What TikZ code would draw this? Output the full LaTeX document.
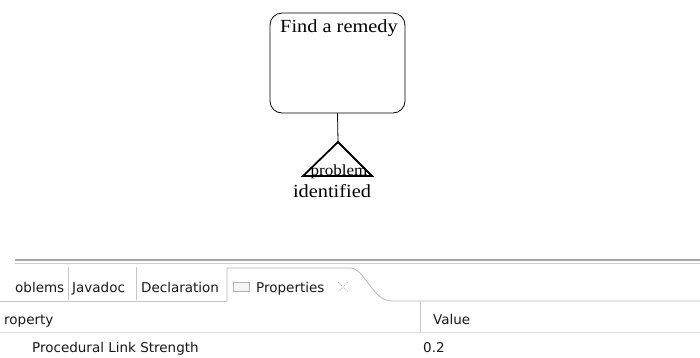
\documentclass[tikz,border=0pt]{standalone}
\usepackage{fontspec}
\setmainfont{Liberation Serif}
\newfontfamily\opmfont[FakeStretch=1.1]{Liberation Serif}
\newfontfamily\panelfont{DejaVu Sans}
\usetikzlibrary{shapes,arrows,positioning,calc}

\begin{document}
\begin{tikzpicture}[
    x=1pt, y=-1pt,
    procnode/.style={draw, rectangle, rounded corners=12pt, minimum width=135pt, minimum height=100pt, line width=0.8pt},
    opmtext/.style={inner sep=0pt, font=\opmfont\fontsize{18.5}{20}\selectfont},
    tabtext/.style={inner sep=0pt, text=black!90, font=\panelfont\fontsize{13.5}{15}\selectfont},
    tabline/.style={draw=gray!45, line width=0.6pt}
  ]
  \useasboundingbox (0,0) rectangle (700,357);
  \clip (0,0) rectangle (700,357);

  % 过程
  \node[procnode] (remedy) at (337.5,63) {};
  \node[opmtext, anchor=base] (remedylabel) at (339,32) {Find a remedy};

  % 状态
  \coordinate (apex) at (338,142);
  \coordinate (baseleft) at (303,176);
  \coordinate (baseright) at (372,176);
  \node[opmtext, anchor=base, font=\opmfont\fontsize{15.5}{17}\selectfont] (problem) at (339,175) {problem};
  \draw[line width=1.8pt, line join=miter] (apex) -- (baseleft) -- (baseright) -- cycle;
  \draw[line width=0.8pt] (remedy.south) -- (apex);
  \node[opmtext, anchor=base] (identified) at (332,197) {identified};

  % 属性面板
  \coordinate (topleft) at (15,260);
  \coordinate (topright) at (700,260);
  \draw[gray!70, line width=1.2pt] (topleft) -- (topright);
  \draw[gray!35, line width=0.8pt] ($(topleft)+(0,3)$) -- ($(topright)+(0,3)$);

  \node[tabtext, anchor=base west] (tabproblems) at (15,292) {oblems};
  \node[tabtext, anchor=base west] (tabjavadoc) at (72,292) {Javadoc};
  \node[tabtext, anchor=base west] (tabdecl) at (141,292) {Declaration};
  \node[draw=gray!60, fill=gray!8, minimum width=16pt, minimum height=9pt, inner sep=0pt] (propsicon) at (241.5,286.5) {};
  \node[tabtext, anchor=base west] (tabprops) at (256,292) {Properties};
  \node[minimum size=9pt, inner sep=0pt] (closeicon) at (343,287) {};

  \draw[tabline] (68,267) -- (68,300);
  \draw[tabline] (136,267) -- (136,300);
  \draw[tabline] (0,301) -- (227,301);
  \draw[draw=gray!60, line width=0.7pt] (227,301) -- (227,268) -- (350,268)
    .. controls (365,268) and (372,301) .. (392,301) -- (700,301);
  \draw[gray!45, densely dotted, line width=1pt] (closeicon.north west) -- (closeicon.south east)
    (closeicon.north east) -- (closeicon.south west);

  \node[tabtext, anchor=base west] (propheader) at (4,324) {roperty};
  \node[tabtext, anchor=base west] (valueheader) at (433,324) {Value};
  \draw[tabline] (420,302) -- (420,332);
  \draw[gray!30, line width=1pt] (0,332) -- (700,332);

  \node[tabtext, anchor=base west] (rowname) at (32,352) {Procedural Link Strength};
  \node[tabtext, anchor=base west] (rowvalue) at (423,352) {0.2};
\end{tikzpicture}
\end{document}
